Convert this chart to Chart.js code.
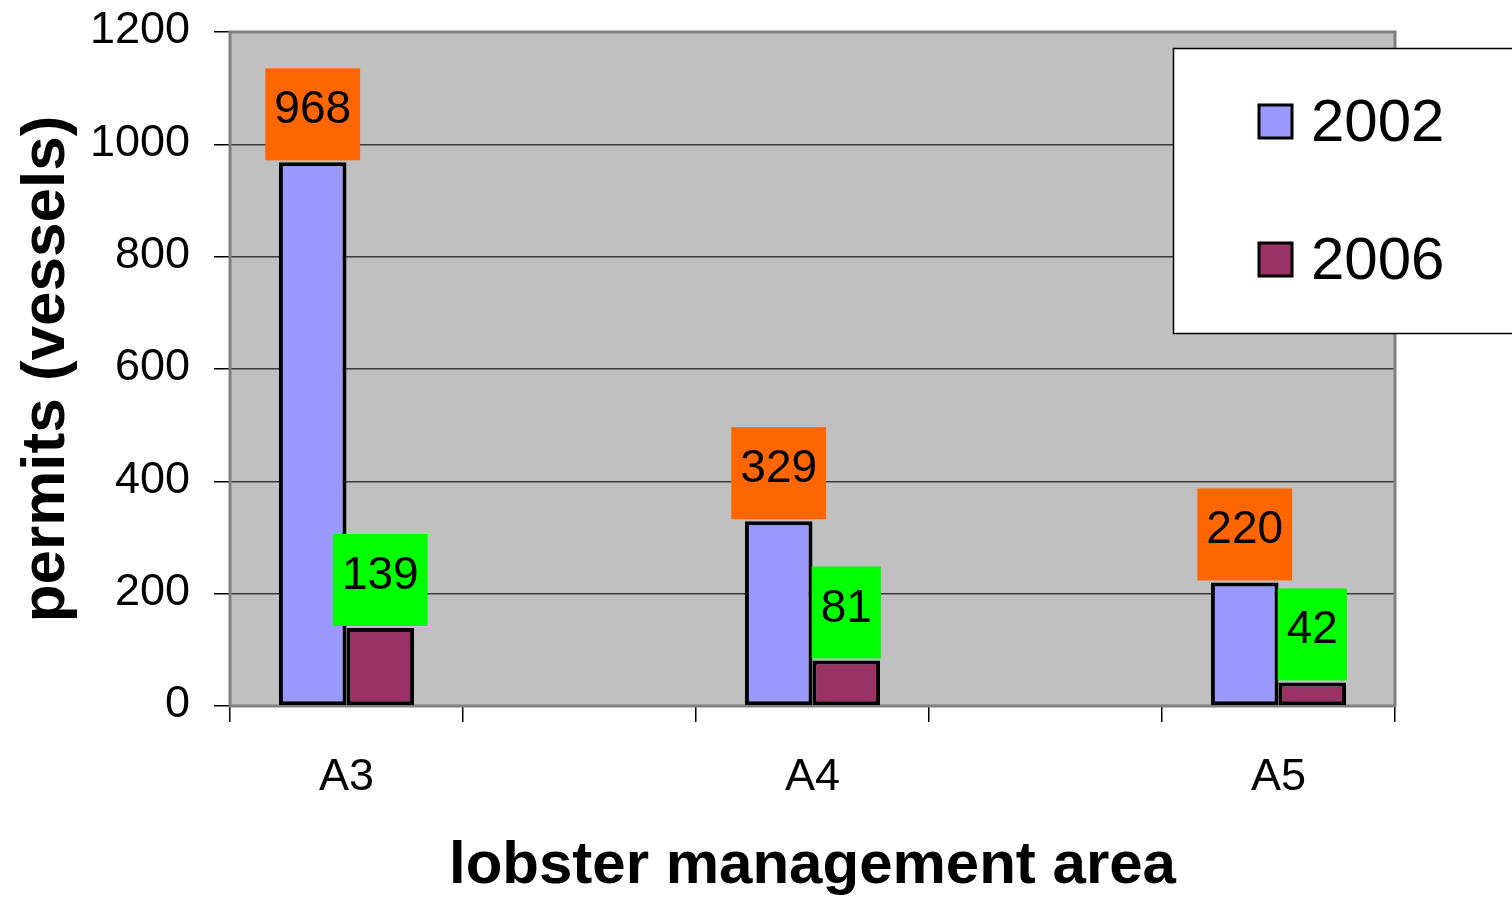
<!DOCTYPE html>
<html>
<head>
<meta charset="utf-8">
<script src="https://cdn.jsdelivr.net/npm/chart.js@4.4.1/dist/chart.umd.min.js"></script>
<style>
  html, body { margin: 0; padding: 0; background: #fff; }
  #wrap { width: 1512px; height: 898px; }
</style>
</head>
<body>
<div id="wrap"><canvas id="chart"></canvas></div>
<script>
// values (blank slots sit between the areas)
const areas = ["A3", "", "A4", "", "A5"];
const permits2002 = [968, null, 329, null, 220];
const permits2006 = [139, null, 81, null, 42];
const yTicks = [0, 200, 400, 600, 800, 1000, 1200];

const FONT = "'Liberation Sans', Arial, sans-serif";

// grey plot area with a grey frame, like the old Excel default
const plotFrame = {
  id: "plotFrame",
  beforeDraw(chart) {
    const { ctx, chartArea: a } = chart;
    ctx.save();
    ctx.fillStyle = "#c0c0c0";
    ctx.fillRect(a.left, a.top, a.right - a.left, a.bottom - a.top);
    ctx.restore();
  },
  beforeDatasetsDraw(chart) {
    const { ctx, chartArea: a } = chart;
    ctx.save();
    ctx.strokeStyle = "#808080";
    ctx.lineWidth = 3;
    ctx.strokeRect(a.left, a.top, a.right - a.left, a.bottom - a.top);
    ctx.restore();
  }
};

// coloured boxes with the value above each bar
const valueBoxes = {
  id: "valueBoxes",
  afterDatasetsDraw(chart) {
    const ctx = chart.ctx;
    ctx.save();
    ctx.font = "46px " + FONT;
    ctx.textAlign = "center";
    ctx.textBaseline = "alphabetic";
    chart.data.datasets.forEach((ds, i) => {
      chart.getDatasetMeta(i).data.forEach((bar, j) => {
        const v = ds.data[j];
        if (v == null) return;
        const text = String(v);
        const w = ctx.measureText(text).width + 18;
        const bottom = bar.y - 2;
        ctx.fillStyle = ds.labelColor;
        ctx.fillRect(bar.x - w / 2, bottom - 92, w, 92);
        ctx.fillStyle = "#000";
        ctx.fillText(text, bar.x, bottom - 37);
      });
    });
    ctx.restore();
  }
};

// white legend box that overlaps the top right of the plot
const boxLegend = {
  id: "boxLegend",
  afterDraw(chart) {
    const ctx = chart.ctx;
    ctx.save();
    ctx.fillStyle = "#fff";
    ctx.fillRect(1173, 48, 345, 285);
    ctx.strokeStyle = "#000";
    ctx.lineWidth = 1.5;
    ctx.strokeRect(1173.5, 48.5, 345, 285);
    ctx.font = "60px " + FONT;
    ctx.textAlign = "left";
    ctx.textBaseline = "middle";
    chart.data.datasets.forEach((ds, i) => {
      const cy = 122 + i * 138;
      ctx.fillStyle = ds.backgroundColor;
      ctx.fillRect(1259, cy - 17, 33, 33);
      ctx.lineWidth = 3;
      ctx.strokeStyle = "#000";
      ctx.strokeRect(1259, cy - 17, 33, 33);
      ctx.fillStyle = "#000";
      ctx.fillText(ds.label, 1311, cy + 2);
    });
    ctx.restore();
  }
};

const ctx = document.getElementById("chart").getContext("2d");
new Chart(ctx, {
  type: "bar",
  data: {
    labels: areas,
    datasets: [
      {
        label: "2002",
        data: permits2002,
        backgroundColor: "#9999ff",
        labelColor: "#ff6600",
        borderColor: "#000",
        borderWidth: 4,
        borderSkipped: false
      },
      {
        label: "2006",
        data: permits2006,
        backgroundColor: "#993366",
        labelColor: "#00ff00",
        borderColor: "#000",
        borderWidth: 4,
        borderSkipped: false
      }
    ]
  },
  options: {
    responsive: true,
    maintainAspectRatio: false,
    animation: false,
    categoryPercentage: 0.58,
    barPercentage: 1.0,
    layout: { padding: { top: 32, right: 117, left: 0, bottom: 0 } },
    plugins: {
      legend: { display: false },
      tooltip: { enabled: false }
    },
    scales: {
      x: {
        afterFit(scale) {
          scale.height = 192;
          scale.paddingLeft = 0;
          scale.paddingRight = 0;
        },
        grid: {
          offset: true,
          drawOnChartArea: false,
          tickLength: 16,
          tickColor: "#000",
          lineWidth: 1.5
        },
        border: { color: "#000", width: 1.5 },
        ticks: {
          color: "#000",
          font: { family: FONT, size: 45 },
          padding: 29,
          autoSkip: false,
          maxRotation: 0
        },
        title: {
          display: true,
          text: "lobster management area",
          color: "#000",
          font: { family: FONT, size: 60, weight: "bold", lineHeight: 1.05 },
          padding: { top: 0, bottom: 0 }
        }
      },
      y: {
        min: 0,
        max: 1200,
        afterFit(scale) {
          scale.width = 230;
          scale.paddingTop = 0;
          scale.paddingBottom = 0;
        },
        afterBuildTicks(scale) { scale.ticks = yTicks.map(v => ({ value: v })); },
        grid: {
          color: "#3a3a3a",
          lineWidth: 1.5,
          tickLength: 16,
          tickColor: "#000"
        },
        border: { color: "#000", width: 1.5 },
        ticks: {
          color: "#000",
          font: { family: FONT, size: 45 },
          padding: 24,
          labelOffset: -1,
          callback: v => String(v)
        },
        title: {
          display: true,
          text: "permits (vessels)",
          color: "#000",
          font: { family: FONT, size: 62, weight: "bold", lineHeight: 1.2 },
          padding: { top: 10, bottom: 0 }
        }
      }
    }
  },
  plugins: [plotFrame, valueBoxes, boxLegend]
});
</script>
</body>
</html>
